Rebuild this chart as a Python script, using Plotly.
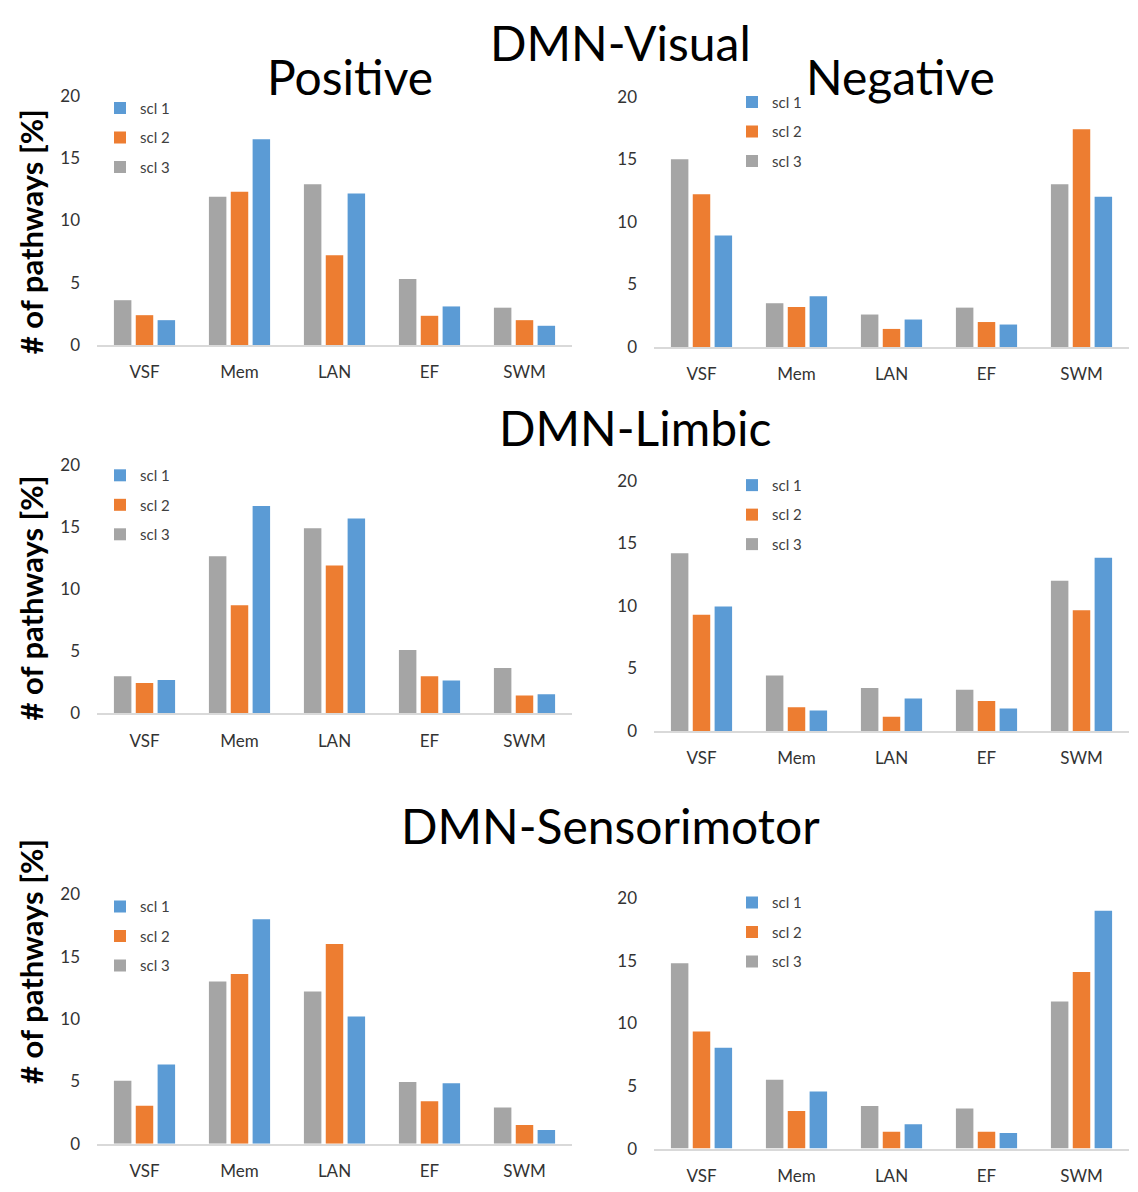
import plotly.graph_objects as go

categories = ["VSF", "Mem", "LAN", "EF", "SWM"]
series_names = ["scl 3", "scl 2", "scl 1"]
series_colors = ["#A5A5A5", "#ED7D31", "#5B9BD5"]
series_rank = [3, 2, 1]

# DMN-Visual
vis_pos_scl3 = [3.6, 11.9, 12.9, 5.3, 3.0]
vis_pos_scl2 = [2.4, 12.3, 7.2, 2.35, 2.0]
vis_pos_scl1 = [2.0, 16.5, 12.15, 3.1, 1.55]
vis_neg_scl3 = [15.0, 3.5, 2.6, 3.15, 13.0]
vis_neg_scl2 = [12.2, 3.2, 1.45, 2.0, 17.4]
vis_neg_scl1 = [8.9, 4.05, 2.2, 1.8, 12.0]
# DMN-Limbic
lim_pos_scl3 = [3.0, 12.65, 14.9, 5.1, 3.65]
lim_pos_scl2 = [2.45, 8.7, 11.9, 3.0, 1.45]
lim_pos_scl1 = [2.7, 16.7, 15.7, 2.65, 1.55]
lim_neg_scl3 = [14.2, 4.45, 3.45, 3.3, 12.0]
lim_neg_scl2 = [9.3, 1.9, 1.15, 2.4, 9.65]
lim_neg_scl1 = [9.95, 1.65, 2.6, 1.8, 13.85]
# DMN-Sensorimotor
sen_pos_scl3 = [5.05, 13.0, 12.2, 4.95, 2.9]
sen_pos_scl2 = [3.05, 13.6, 16.0, 3.4, 1.5]
sen_pos_scl1 = [6.35, 18.0, 10.2, 4.85, 1.1]
sen_neg_scl3 = [14.8, 5.5, 3.4, 3.2, 11.75]
sen_neg_scl2 = [9.35, 3.0, 1.35, 1.35, 14.1]
sen_neg_scl1 = [8.05, 4.55, 1.95, 1.25, 19.0]

y_ticks = [0, 5, 10, 15, 20]
group_titles = ["DMN-Visual", "DMN-Limbic", "DMN-Sensorimotor"]
sign_titles = ["Positive", "Negative"]
y_title = "# of pathways [%]"

panels = [
    [vis_pos_scl3, vis_pos_scl2, vis_pos_scl1],
    [vis_neg_scl3, vis_neg_scl2, vis_neg_scl1],
    [lim_pos_scl3, lim_pos_scl2, lim_pos_scl1],
    [lim_neg_scl3, lim_neg_scl2, lim_neg_scl1],
    [sen_pos_scl3, sen_pos_scl2, sen_pos_scl1],
    [sen_neg_scl3, sen_neg_scl2, sen_neg_scl1],
]

OFFX, OFFY = 8, 8  # page body margin
W, H = 1138 - OFFX, 1192 - OFFY
FONT = "Lato"


def px(x):
    return (x - OFFX) / W


def py(y):
    return 1 - (y - OFFY) / H


# pixel layout (window coords): (x_left, x_right, y_zero, y_twenty)
panel_px = [
    (97, 572, 340, 86),
    (654, 1129, 342, 87),
    (97, 572, 715, 462),
    (654, 1129, 733, 478),
    (97, 572, 1153, 899),
    (654, 1129, 1158, 903),
]
legend_px = [(118, 98), (750, 92), (118, 472), (750, 482), (118, 911), (750, 907)]

fig = go.Figure()
layout = {}
for i, (data, (xl, xr, y0, y20)) in enumerate(zip(panels, panel_px)):
    n = "" if i == 0 else str(i + 1)
    lg = "legend" if i == 0 else f"legend{i + 1}"
    for vals, name, col, rk in zip(data, series_names, series_colors, series_rank):
        fig.add_trace(go.Bar(
            x=categories, y=vals, name=name, marker_color=col,
            marker_line_width=0, xaxis="x" + n, yaxis="y" + n,
            legend=lg, legendgroup=f"{name}{i}", legendrank=rk,
        ))
    layout["xaxis" + n] = dict(
        domain=[px(xl), px(xr)], anchor="y" + n, showgrid=False,
        showline=True, linecolor="#D9D9D9", linewidth=1.5, ticks="",
        tickfont=dict(family=FONT, size=17, color="#333333"),
        ticklabelstandoff=11, fixedrange=True,
    )
    layout["yaxis" + n] = dict(
        domain=[py(y0), py(y20)], anchor="x" + n, range=[0, 20],
        tickvals=y_ticks, showgrid=False, zeroline=False, showline=False,
        tickfont=dict(family=FONT, size=17, color="#333333"),
        ticklabelstandoff=16, fixedrange=True,
    )
    lx, ly = legend_px[i]
    layout[lg] = dict(
        x=px(lx - 18), y=py(ly - 16), xanchor="left", yanchor="top",
        bgcolor="rgba(0,0,0,0)", traceorder="grouped",
        tracegroupgap=7, font=dict(family=FONT, size=15, color="#404040"),
        itemwidth=30,
    )

annotations = []
for txt, cx, cy in [
    (group_titles[0], 620, 33), (sign_titles[0], 350, 68), (sign_titles[1], 900, 68),
    (group_titles[1], 635, 425), (group_titles[2], 610, 830),
]:
    annotations.append(dict(
        text=txt, x=px(cx), y=py(cy - 1), xref="paper", yref="paper",
        xanchor="center", yanchor="middle", showarrow=False,
        font=dict(family=FONT, size=48, color="#000000"),
    ))
for cy in [225, 598, 968]:
    annotations.append(dict(
        text=f"<b>{y_title}</b>", x=px(31), y=py(cy), xref="paper", yref="paper",
        xanchor="center", yanchor="middle", textangle=-90, showarrow=False,
        font=dict(family=FONT, size=31, color="#000000"),
    ))

fig.update_layout(
    width=W, height=H, margin=dict(l=0, r=0, t=0, b=0),
    plot_bgcolor="white", paper_bgcolor="white",
    barmode="group", bargap=0.31, bargroupgap=0.2,
    annotations=annotations, showlegend=True,
    **layout,
)
fig.write_html("out.html")
